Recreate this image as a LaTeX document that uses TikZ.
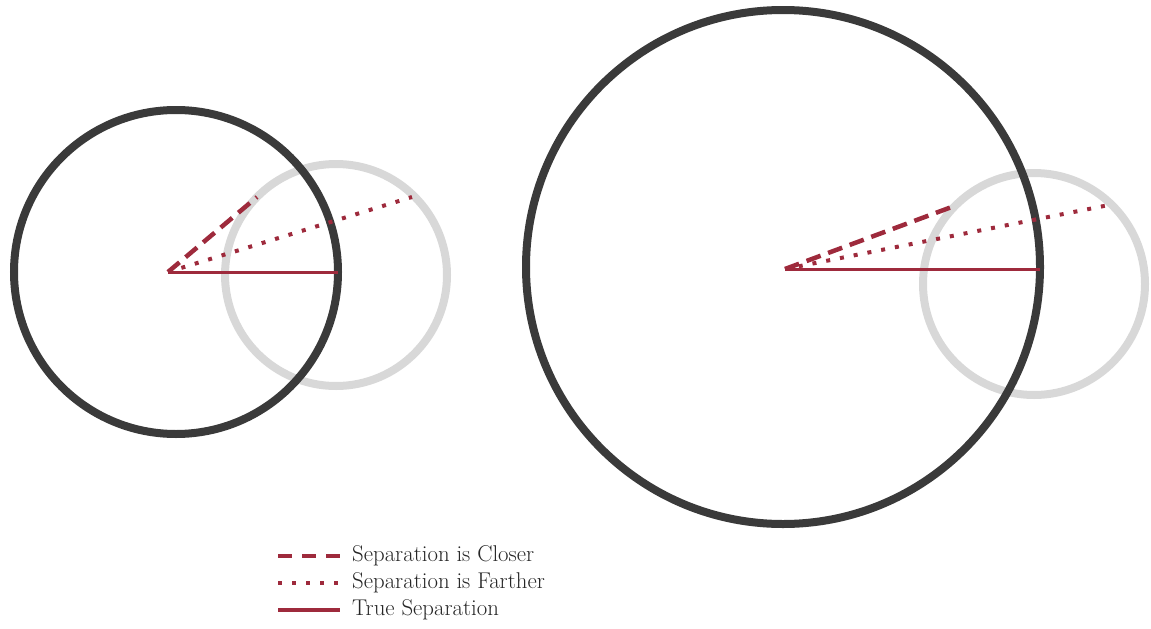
\documentclass[tikz,border=0pt]{standalone}
\usepackage{tikz}
\definecolor{ringdark}{HTML}{3A3A3A}
\definecolor{ringlight}{HTML}{D8D8D8}
\definecolor{sepred}{HTML}{9E2A3C}
\tikzset{
  darkring/.style={draw=ringdark, line width=8pt},
  lightring/.style={draw=ringlight, line width=8pt},
  closerline/.style={draw=sepred, line width=4.5pt, dash pattern=on 15pt off 8pt},
  fartherline/.style={draw=sepred, line width=4pt, dash pattern=on 4pt off 10pt},
  trueline/.style={draw=sepred, line width=3pt},
  legendtext/.style={anchor=west, inner sep=0pt, text=black!85, font=\fontsize{22.8}{26}\selectfont}
}
\begin{document}
\begin{tikzpicture}[x=1pt,y=-1pt]
\useasboundingbox (0,0) rectangle (1151,629);
% left pair
\coordinate (Lcen) at (176,272);
\coordinate (Lsat) at (336,275);
\coordinate (Lo) at (168,272);
\coordinate (Lnear) at (257,197);
\coordinate (Lfar) at (412,197);
\coordinate (Ledge) at (338,272);
\draw[lightring] (Lsat) circle[radius=111];
\draw[darkring] (Lcen) circle[radius=162];
\draw[closerline] (Lo) -- (Lnear);
\draw[fartherline] (Lo) -- (Lfar);
\draw[trueline] (Lo) -- (Ledge);
% right pair
\coordinate (Rcen) at (783,267);
\coordinate (Rsat) at (1034,284);
\coordinate (Ro) at (785,269);
\coordinate (Rnear) at (957,205);
\coordinate (Rfar) at (1109,205);
\coordinate (Redge) at (1040,269);
\draw[lightring] (Rsat) circle[radius=111];
\draw[darkring] (Rcen) circle[radius=257];
\draw[closerline] (Ro) -- (Rnear);
\draw[fartherline] (Ro) -- (Rfar);
\draw[trueline] (Ro) -- (Redge);
% legend
\coordinate (k1a) at (278,556); \coordinate (k1b) at (340,556);
\coordinate (k2a) at (278,583); \coordinate (k2b) at (340,583);
\coordinate (k3a) at (278,610); \coordinate (k3b) at (340,610);
\draw[closerline, dash pattern=on 14pt off 10pt] (k1a) -- (k1b);
\draw[fartherline] (k2a) -- (k2b);
\draw[trueline, line width=4pt] (k3a) -- (k3b);
\node[legendtext] (t1) at (352,556) {Separation is Closer};
\node[legendtext] (t2) at (352,583) {Separation is Farther};
\node[legendtext] (t3) at (352,610) {True Separation};
\end{tikzpicture}
\end{document}
